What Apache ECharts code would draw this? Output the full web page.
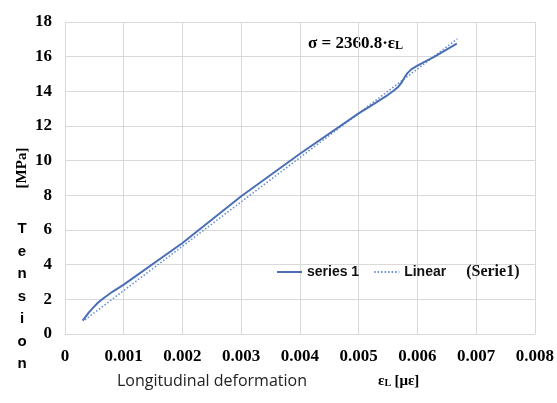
<!DOCTYPE html>
<html>
<head>
<meta charset="utf-8">
<script src="https://cdn.jsdelivr.net/npm/echarts@6/dist/echarts.min.js"></script>
<style>html,body{margin:0;padding:0;background:#fff}#c{width:557px;height:403px}</style>
</head>
<body>
<div id="c"></div>
<script>
var seriesStrain = [0.0003, 0.00034, 0.0004, 0.00048, 0.00056, 0.00065, 0.0008, 0.001, 0.002, 0.003, 0.004, 0.005, 0.0052, 0.0055, 0.0056, 0.00567, 0.00573, 0.00578, 0.00583, 0.0059, 0.006, 0.0063, 0.00667];
var seriesStress = [0.77, 0.95, 1.22, 1.52, 1.8, 2.05, 2.42, 2.85, 5.25, 7.95, 10.4, 12.73, 13.15, 13.8, 14.05, 14.25, 14.5, 14.8, 15.05, 15.28, 15.48, 16.02, 16.75];
var linearStrain = [0.00034, 0.00668];
var linearStress = [0.82, 17.03];
var xTicks = [0, 0.001, 0.002, 0.003, 0.004, 0.005, 0.006, 0.007, 0.008];
var yTicks = [0, 2, 4, 6, 8, 10, 12, 14, 16, 18];

function pairs(a, b) { return a.map(function (v, i) { return [v, b[i]]; }); }

var chart = echarts.init(document.getElementById('c'));
var serif = '"Liberation Serif", "Times New Roman", serif';
var sans = '"Liberation Sans", Arial, sans-serif';
chart.setOption({
  animation: false,
  backgroundColor: '#fff',
  grid: { left: 65, right: 20, top: 22, bottom: 69 },
  xAxis: {
    type: 'value', min: xTicks[0], max: xTicks[xTicks.length - 1], interval: 0.001,
    axisLine: { show: true, lineStyle: { color: '#d9d9d9' } },
    axisTick: { show: false },
    splitLine: { show: true, lineStyle: { color: '#d9d9d9' } },
    axisLabel: {
      margin: 14, color: '#000', fontFamily: serif, fontWeight: 'bold', fontSize: 17,
      formatter: function (v) { return v === 0 ? '0' : v.toFixed(3); }
    }
  },
  yAxis: {
    type: 'value', min: yTicks[0], max: yTicks[yTicks.length - 1], interval: 2,
    axisLine: { show: true, lineStyle: { color: '#d9d9d9' } },
    axisTick: { show: false },
    splitLine: { show: true, lineStyle: { color: '#d9d9d9' } },
    axisLabel: { margin: 13, color: '#000', fontFamily: serif, fontWeight: 'bold', fontSize: 17 }
  },
  legend: {
    left: 271, top: 259, itemWidth: 25, itemHeight: 10, itemGap: 14,
    itemStyle: { opacity: 0 },
    data: ['series 1', 'Linear (Serie1)'],
    formatter: function (n) {
      return n === 'series 1' ? '{s|series 1}' : '{s|Linear}      {t|(Serie1)}';
    },
    textStyle: {
      rich: {
        s: { fontFamily: sans, fontWeight: 'bold', fontSize: 14, color: '#111' },
        t: { fontFamily: serif, fontWeight: 'bold', fontSize: 16, color: '#111' }
      }
    }
  },
  series: [
    {
      name: 'series 1', type: 'line', smooth: false, symbol: 'none',
      data: pairs(seriesStrain, seriesStress),
      lineStyle: { color: '#4a6fb6', width: 2, join: 'round' }, itemStyle: { color: '#4a6fb6' }, z: 3
    },
    {
      name: 'Linear (Serie1)', type: 'line', symbol: 'none',
      data: pairs(linearStrain, linearStress),
      lineStyle: { color: '#6a8fd0', width: 1.6, type: [1.5, 2] }, itemStyle: { color: '#6a8fd0' }, z: 2
    }
  ],
  graphic: [
    { type: 'text', left: 308, top: 35, style: {
      text: '{a|σ = 2360.8·ε}{b|L}',
      rich: { a: { fontFamily: serif, fontWeight: 'bold', fontSize: 17, fill: '#000' },
              b: { fontFamily: serif, fontWeight: 'bold', fontSize: 12, fill: '#000', padding: [4, 0, 0, 0] } } } },
    { type: 'text', left: 117, top: 373, style: { text: 'Longitudinal deformation', font: '16px "Open Sans", "Noto Sans", sans-serif', fill: '#222' } },
    { type: 'text', left: 378, top: 374, style: {
      text: '{a|ε}{b|L} {a|[με]}',
      rich: { a: { fontFamily: serif, fontWeight: 'bold', fontSize: 15, fill: '#000' },
              b: { fontFamily: serif, fontWeight: 'bold', fontSize: 10, fill: '#000', padding: [4, 0, 0, 0] } } } },
    { type: 'text', x: 22, y: 168, rotation: Math.PI / 2, style: {
      text: '[MPa]', font: 'bold 15px "Liberation Serif", serif', fill: '#000', align: 'center', verticalAlign: 'middle' } },
    { type: 'text', x: 22, y: 218, style: {
      text: 'T\ne\nn\ns\ni\no\nn', font: 'bold 15px "Liberation Sans", Arial, sans-serif', fill: '#000', align: 'center', lineHeight: 22.5 } }
  ]
});
</script>
</body>
</html>
